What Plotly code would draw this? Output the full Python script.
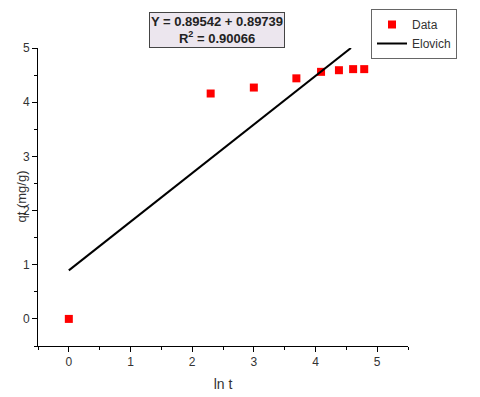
import plotly.graph_objects as go

# Données expérimentales (ln t, qt)
ln_t = [0.0, 2.30, 3.00, 3.69, 4.09, 4.38, 4.61, 4.79]
qt = [0.0, 4.16, 4.27, 4.44, 4.56, 4.59, 4.61, 4.61]

# Modèle Elovich : Y = a + b * ln t
fit_a = 0.89542
fit_b = 0.89739
fit_r2 = 0.90066
fit_x = [0.0, 4.575]
fit_y = [fit_a + fit_b * x for x in fit_x]

x_ticks = [0, 1, 2, 3, 4, 5]
y_ticks = [0, 1, 2, 3, 4, 5]

# ─── Marges en pixels (la page ajoute 8 px de marge au body) ──────────
OFF = 8
W, H = 480, 397
ML, MR, MT, MB = 38 - OFF, 72 + OFF, 48 - OFF, 51 + OFF
plot_w = W - ML - MR
plot_h = H - MT - MB


def px_x(x_win):
    """Pixel fenêtre -> coordonnée papier (x)."""
    return (x_win - OFF - ML) / plot_w


def px_y(y_win):
    """Pixel fenêtre -> coordonnée papier (y)."""
    return 1 + (MT - (y_win - OFF)) / plot_h


fig = go.Figure()

fig.add_trace(go.Scatter(
    x=ln_t, y=qt, mode="markers", name="Data",
    marker=dict(symbol="square", size=8, color="#ff0000"),
))
fig.add_trace(go.Scatter(
    x=fit_x, y=fit_y, mode="lines", name="Elovich",
    line=dict(color="black", width=2),
))

axis_common = dict(
    showline=True, linecolor="black", linewidth=1,
    ticks="outside", ticklen=5, tickcolor="black",
    showgrid=False, zeroline=False, automargin=False,
    tickfont=dict(family="Arial", size=12, color="#333333"),
    minor=dict(ticks="outside", ticklen=3, tickcolor="black", dtick=0.5),
)

fig.update_layout(
    width=W, height=H,
    margin=dict(l=ML, r=MR, t=MT, b=MB, autoexpand=False),
    paper_bgcolor="white", plot_bgcolor="white",
    font=dict(family="Arial", size=12, color="#333333"),
    xaxis=dict(range=[-0.5, 5.5], tickvals=x_ticks,
               title=dict(text="ln t", font=dict(size=14), standoff=10),
               **axis_common),
    yaxis=dict(range=[-0.5, 5], tickvals=y_ticks, ticklabelstandoff=0,
               **axis_common),
    showlegend=True,
    legend=dict(
        x=px_x(371), y=px_y(9),
        xanchor="left", yanchor="top",
        bordercolor="#666666", borderwidth=1, bgcolor="white",
        font=dict(family="Arial", size=12, color="#333333"),
        tracegroupgap=0, itemwidth=30,
    ),
)

# Titre de l'axe Y (annotation pour le placer librement)
fig.add_annotation(
    x=px_x(11), y=px_y(197), xref="paper", yref="paper",
    xanchor="left", yanchor="middle",
    showarrow=False, textangle=-90,
    text="qt (mg/g)", font=dict(family="Arial", size=13, color="#333333"),
)

fig.add_annotation(
    x=px_x(217), y=px_y(30),
    xref="paper", yref="paper", showarrow=False,
    xanchor="center", yanchor="middle",
    text=f"<b>Y = {fit_a} + {fit_b}<br>R<sup>2</sup> = {fit_r2}</b>",
    font=dict(family="Arial", size=13, color="#222222"),
    bgcolor="#ece6ee", bordercolor="#444444", borderwidth=1, borderpad=1,
)

fig.write_html("out.html")
